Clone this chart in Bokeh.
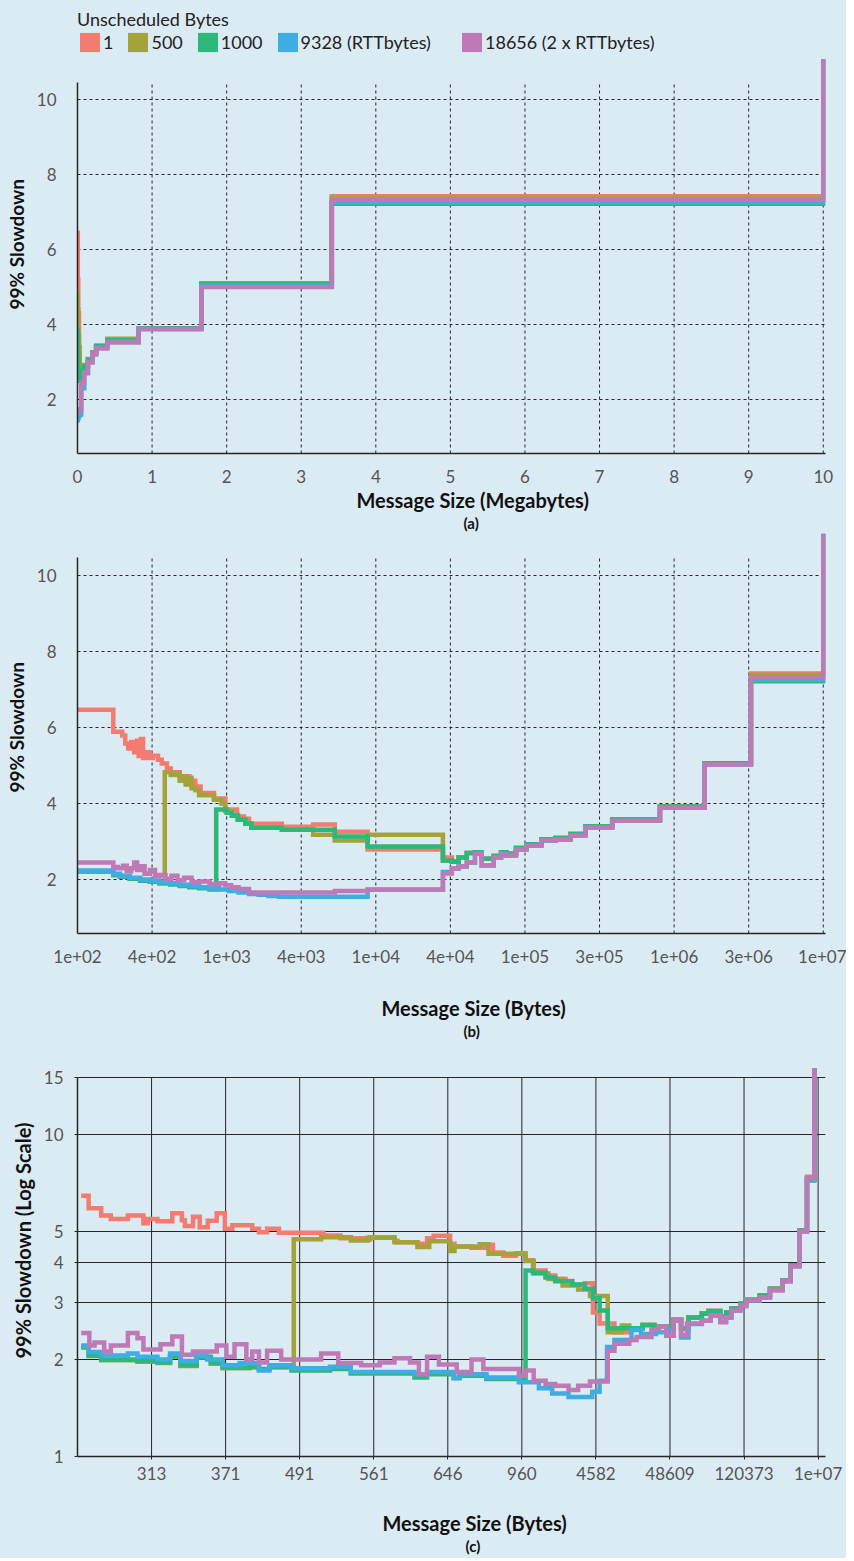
from bokeh.plotting import figure
from bokeh.models import (ColumnDataSource, Range1d, FixedTicker, Legend, LegendItem,
                          Title, BasicTickFormatter, LinearAxis)
from bokeh.layouts import column
from bokeh.embed import file_html
from bokeh.resources import INLINE

# ------------------------------------------------------------------ data
SERIES = ["1", "500", "1000", "9328 (RTTbytes)", "18656 (2 x RTTbytes)"]
COLORS = ["#f47b6f", "#a3a33a", "#2db87b", "#3dade4", "#bf79b6"]

# panel (a): x = message size in megabytes
a_x = [0, 0.004, 0.01, 0.02, 0.03, 0.05, 0.09, 0.14, 0.2, 0.25, 0.4, 0.82, 1.66, 3.41, 10.0]
a_red_y = [6.45, 5.2, 4.3, 3.4, 2.8, 2.75, 2.9, 3.06, 3.24, 3.42, 3.6, 3.9, 5.06, 7.42, 11.07]
a_olive_y = [4.85, 4.4, 3.7, 3.2, 2.9, 2.8, 2.92, 3.08, 3.26, 3.44, 3.62, 3.88, 5.1, 7.38, 11.07]
a_green_y = [3.85, 3.4, 2.8, 2.5, 2.6, 2.78, 2.9, 3.06, 3.24, 3.42, 3.58, 3.9, 5.08, 7.22, 11.07]
a_blue_y = [1.45, 1.5, 1.55, 1.58, 1.6, 2.3, 2.7, 3.0, 3.2, 3.38, 3.54, 3.88, 5.04, 7.26, 11.07]
a_purple_y = [1.65, 1.68, 1.7, 1.72, 1.74, 2.45, 2.72, 2.99, 3.22, 3.36, 3.52, 3.88, 5.0, 7.32, 11.07]
a_ticks = [0, 1, 2, 3, 4, 5, 6, 7, 8, 9, 10]

# panel (b): x = rank position of message size (ticks labelled with sizes)
b_tick_pos = [0, 1, 2, 3, 4, 5, 6, 7, 8, 9, 10]
b_tick_labels = ["1e+02", "4e+02", "1e+03", "4e+03", "1e+04", "4e+04",
                 "1e+05", "3e+05", "1e+06", "3e+06", "1e+07"]

b_red_x = [0, 0.48, 0.60, 0.64, 0.68, 0.72, 0.76, 0.80, 0.82, 0.85, 0.88, 0.92, 0.96, 1.01,
           1.08, 1.13, 1.20, 1.25, 1.37, 1.50, 1.58, 1.65, 1.83, 1.98, 2.14, 2.23, 2.30,
           2.74, 3.16, 3.45, 3.89, 4.90]
b_red_y = [6.47, 5.89, 5.79, 5.58, 5.45, 5.62, 5.35, 5.65, 5.25, 5.70, 5.20, 5.35, 5.20, 5.26,
           5.15, 5.05, 4.92, 4.82, 4.72, 4.60, 4.45, 4.28, 4.13, 3.84, 3.66, 3.60, 3.47,
           3.39, 3.45, 3.26, 2.79, 2.58]
b_olive_x = [0, 0.48, 0.57, 0.70, 0.84, 0.97, 1.10, 1.17, 1.25, 1.31, 1.37, 1.41, 1.45, 1.49,
             1.53, 1.58, 1.63, 1.83, 1.93, 1.98, 2.07, 2.15, 2.25, 2.33, 2.74, 3.16, 3.45,
             3.89, 4.90]
b_olive_y = [2.21, 2.12, 2.07, 2.02, 1.97, 1.94, 1.90, 4.82, 4.75, 4.78, 4.60, 4.72, 4.50, 4.68,
             4.40, 4.35, 4.22, 4.10, 4.00, 3.80, 3.70, 3.58, 3.48, 3.36, 3.31, 3.18, 3.03,
             3.18, 2.50]
b_green_x = [0, 0.48, 0.57, 0.70, 0.84, 0.97, 1.10, 1.24, 1.37, 1.50, 1.63, 1.77, 1.86, 2.00,
             2.07, 2.15, 2.25, 2.33, 2.74, 3.45, 3.89, 4.90]
b_green_y = [2.21, 2.12, 2.07, 2.02, 1.97, 1.94, 1.90, 1.87, 1.83, 1.80, 1.77, 1.74, 3.84, 3.76,
             3.68, 3.57, 3.47, 3.36, 3.31, 3.13, 2.87, 2.50]
b_blue_x = [0, 0.48, 0.57, 0.70, 0.84, 0.97, 1.10, 1.24, 1.37, 1.50, 1.63, 1.77, 1.90, 2.03,
            2.16, 2.30, 2.43, 2.56, 2.70, 3.89, 4.90]
b_blue_y = [2.24, 2.15, 2.10, 2.05, 2.00, 1.97, 1.93, 1.90, 1.86, 1.83, 1.80, 1.77, 1.74, 1.70,
            1.66, 1.62, 1.60, 1.57, 1.55, 1.73, 2.20]
b_purple_x = [0, 0.48, 0.54, 0.61, 0.66, 0.72, 0.76, 0.80, 0.85, 0.90, 0.97, 1.04, 1.10, 1.18,
              1.26, 1.34, 1.43, 1.53, 1.63, 1.77, 1.90, 1.98, 2.06, 2.16, 2.30, 3.45, 3.89, 4.90]
b_purple_y = [2.45, 2.33, 2.30, 2.36, 2.22, 2.30, 2.45, 2.25, 2.35, 2.15, 2.25, 2.08, 2.12, 2.02,
              2.10, 1.98, 2.05, 1.93, 1.95, 1.88, 1.90, 1.85, 1.80, 1.75, 1.66, 1.70, 1.74, 2.16]
# shared large-message part of panel (b)
b_tail_x = [5.02, 5.11, 5.22, 5.33, 5.42, 5.58, 5.68, 5.75, 5.88, 6.02, 6.22, 6.41, 6.61,
            6.81, 7.17, 7.81, 8.41, 9.03, 10.0]
b_hi_tail_y = [2.47, 2.58, 2.70, 2.72, 2.55, 2.62, 2.72, 2.68, 2.83, 2.93, 3.06, 3.09, 3.20,
               3.40, 3.58, 3.92, 5.06]
b_lo_tail_y = [2.29, 2.34, 2.45, 2.68, 2.37, 2.58, 2.68, 2.63, 2.79, 2.89, 3.03, 3.05, 3.16,
               3.37, 3.55, 3.89, 5.03]
b_top_y = [7.42, 7.38, 7.22, 7.26, 7.32]
b_spike_y = 11.1

# panel (c): x = rank position, log y
c_tick_pos = [1, 2, 3, 4, 5, 6, 7, 8, 9, 10]
c_tick_labels = ["313", "371", "491", "561", "646", "960", "4582", "48609", "120373", "1e+07"]
c_y_ticks = [1, 2, 3, 4, 5, 10, 15]

c_red_x = [0.05, 0.15, 0.32, 0.45, 0.68, 0.89, 0.95, 1.08, 1.28, 1.41, 1.45, 1.56, 1.65, 1.76,
           1.88, 1.99, 2.09, 2.36, 2.45, 2.56, 2.72, 3.32, 3.55, 3.88, 3.95, 4.28, 4.32, 4.59,
           4.72, 4.81, 5.03, 5.09, 5.32, 5.52, 5.61, 5.75, 5.92, 6.05, 6.15, 6.32, 6.45, 6.59,
           6.68, 6.85, 6.96, 7.05, 7.25]
c_red_y = [6.46, 5.90, 5.60, 5.47, 5.60, 5.30, 5.47, 5.38, 5.69, 5.42, 5.20, 5.55, 5.15, 5.40,
           5.69, 5.10, 5.23, 5.10, 4.97, 5.10, 4.95, 4.86, 4.76, 4.72, 4.80, 4.68, 4.63, 4.58,
           4.76, 4.85, 4.58, 4.49, 4.45, 4.55, 4.30, 4.20, 4.28, 4.07, 3.78, 3.65, 3.56, 3.51,
           3.42, 3.45, 2.80, 2.59, 2.43]
c_olive_x = [0.05, 0.15, 0.32, 0.68, 0.81, 1.08, 1.25, 1.39, 1.61, 1.80, 1.96, 2.32, 2.45, 2.59,
             2.92, 3.29, 3.69, 3.92, 4.28, 4.59, 4.75, 5.03, 5.09, 5.43, 5.55, 6.05, 6.16, 6.36,
             6.55, 6.76, 6.92, 7.16, 7.35]
c_olive_y = [2.18, 2.05, 1.99, 1.99, 1.97, 1.95, 2.04, 1.91, 2.03, 1.94, 1.88, 1.89, 1.86, 1.89,
             4.73, 4.80, 4.69, 4.78, 4.63, 4.47, 4.66, 4.35, 4.49, 4.56, 4.26, 4.05, 3.70, 3.56,
             3.40, 3.30, 3.15, 2.43, 2.55]
c_green_x = [0.05, 0.15, 0.32, 0.68, 0.81, 1.08, 1.25, 1.39, 1.61, 1.80, 1.96, 2.32, 2.45, 2.59,
             2.89, 3.41, 3.69, 4.55, 4.72, 5.08, 5.16, 5.52, 6.05, 6.15, 6.32, 6.45, 6.68, 6.85,
             6.96, 7.05, 7.16]
c_green_y = [2.19, 2.06, 2.00, 2.00, 1.98, 1.96, 2.05, 1.92, 2.04, 1.95, 1.89, 1.90, 1.87, 1.90,
             1.85, 1.87, 1.81, 1.76, 1.80, 1.75, 1.78, 1.74, 3.78, 3.72, 3.60, 3.50, 3.42, 3.32,
             3.10, 2.84, 2.50]
c_blue_x = [0.05, 0.15, 0.32, 0.68, 0.81, 1.08, 1.25, 1.39, 1.61, 1.75, 1.96, 2.19, 2.45, 2.59,
            2.89, 3.41, 3.69, 4.55, 4.72, 5.08, 5.16, 5.52, 5.96, 6.23, 6.41, 6.63, 6.95, 7.05,
            7.15, 7.25, 7.48, 7.61, 7.81, 7.95, 8.05, 8.15, 8.25, 8.43, 8.55, 8.68, 8.76, 8.83,
            8.95, 9.03, 9.21, 9.35, 9.52, 9.63, 9.75, 9.85, 9.95]
c_blue_y = [2.21, 2.11, 2.06, 2.09, 2.04, 2.00, 2.09, 1.98, 2.06, 2.00, 1.92, 1.95, 1.85, 1.92,
            1.88, 1.90, 1.83, 1.80, 1.83, 1.76, 1.80, 1.76, 1.70, 1.63, 1.57, 1.53, 1.59, 1.72,
            2.19, 2.30, 2.47, 2.40, 2.43, 2.47, 2.64, 2.34, 2.58, 2.64, 2.74, 2.62, 2.70, 2.84,
            2.95, 3.05, 3.12, 3.30, 3.50, 3.90, 5.00, 7.25, 16.1]
c_purple_x = [0.05, 0.16, 0.23, 0.36, 0.45, 0.68, 0.81, 0.89, 1.12, 1.28, 1.41, 1.56, 1.88, 2.01,
              2.12, 2.28, 2.36, 2.45, 2.56, 2.75, 3.29, 3.52, 3.83, 4.08, 4.28, 4.49, 4.61, 4.72,
              4.88, 5.12, 5.32, 5.48, 5.96, 6.05, 6.16, 6.32, 6.45, 6.63, 6.76, 6.92, 7.16, 7.25,
              7.45, 7.55, 7.75, 7.85, 7.95, 8.05, 8.15, 8.23, 8.43, 8.55, 8.68, 8.75, 8.83, 8.95,
              9.03, 9.21, 9.35, 9.52, 9.63, 9.75, 9.85, 9.95]
c_purple_y = [2.42, 2.21, 2.26, 2.12, 2.21, 2.42, 2.33, 2.15, 2.23, 2.36, 2.07, 2.12, 2.21, 2.04,
              2.23, 2.00, 2.12, 1.96, 2.13, 2.00, 2.09, 1.95, 1.92, 1.96, 2.02, 1.96, 1.80, 2.04,
              1.93, 1.83, 2.00, 1.87, 1.78, 1.85, 1.72, 1.68, 1.66, 1.61, 1.66, 1.71, 2.13, 2.24,
              2.30, 2.35, 2.48, 2.53, 2.37, 2.66, 2.38, 2.59, 2.64, 2.74, 2.61, 2.70, 2.84, 2.93,
              3.05, 3.12, 3.28, 3.50, 3.90, 5.00, 7.30, 16.1]
c_tail_x = [7.45, 7.63, 7.79, 8.05, 8.15, 8.25, 8.43, 8.52, 8.68, 8.76, 8.83, 8.95, 9.03, 9.21,
            9.35, 9.52, 9.63, 9.75, 9.85, 9.95]
c_tail_y = [2.50, 2.56, 2.53, 2.66, 2.50, 2.70, 2.78, 2.83, 2.72, 2.80, 2.88, 2.98, 3.07, 3.16,
            3.32, 3.52, 3.92, 5.03]
c_top_y = [7.40, 7.36, 7.20]
c_spike_y = 16.1

# ------------------------------------------------------------------ style
BG = "#dbebf3"
INK = "#262626"
TICK_INK = "#555555"
FONT = "Lato"
LW = 4.5


def base_fig(width, height, x_range, y_range, left, top, bottom, y_type="linear"):
    p = figure(width=width, height=height, x_range=x_range, y_range=y_range,
               y_axis_type=y_type, output_backend="svg", toolbar_location=None,
               min_border_left=left, min_border_right=21, min_border_top=top,
               min_border_bottom=bottom, background_fill_color=BG, border_fill_color=BG)
    p.outline_line_color = None
    p.xgrid.visible = False
    for ax in (p.xaxis[0], p.yaxis[0]):
        ax.axis_line_color = INK
        ax.axis_line_width = 1.5
        ax.major_label_text_font = FONT
        ax.major_label_text_font_size = "17px"
        ax.major_label_text_color = TICK_INK
        ax.minor_tick_line_color = None
    return p


def spacer(p, gap, at):
    # invisible axis (one background-coloured tick, no label) that only reserves
    # vertical room between the tick labels and the axis title
    ax = LinearAxis(ticker=FixedTicker(ticks=[at]), major_tick_out=gap, major_tick_in=0,
                    major_label_standoff=0, axis_line_color=None,
                    major_tick_line_color=BG, minor_tick_line_color=None,
                    major_label_overrides={at: ""}, major_label_text_alpha=0,
                    major_label_text_font_size="1px")
    p.add_layout(ax, "below")


def add_titles(p, xtitle, xoff, sub, suboff, ytitle, yoff, yfs):
    p.add_layout(Title(text=xtitle, align="left", offset=xoff, text_font=FONT,
                       text_font_size="20px", text_font_style="bold",
                       text_color="#111111", standoff=0), "below")
    p.add_layout(Title(text=sub, align="left", offset=suboff, text_font=FONT,
                       text_font_size="15px", text_font_style="bold",
                       text_color="#111111", standoff=0), "below")
    p.add_layout(Title(text=ytitle, align="left", offset=yoff, text_font=FONT,
                       text_font_size=yfs, text_font_style="bold", vertical_align="top",
                       text_color="#111111", standoff=8), "left")


def vgrid(p, xs, y0, y1, dash):
    src = ColumnDataSource(dict(x=xs, y0=[y0] * len(xs), y1=[y1] * len(xs)))
    p.segment(x0="x", x1="x", y0="y0", y1="y1", source=src, line_color=INK,
              line_width=1, line_dash=dash)


# ------------------------------------------------------------------ panel (a)
pa = base_fig(846, 533, Range1d(0, 10.03), Range1d(0.56, 12.43), 70, 8, 80)
pa.xaxis.ticker = FixedTicker(ticks=a_ticks)
pa.yaxis.ticker = FixedTicker(ticks=[2, 4, 6, 8, 10])
pa.yaxis.bounds = (0.56, 10.45)
for ax in (pa.xaxis[0], pa.yaxis[0]):
    ax.major_tick_line_color = None
pa.xaxis.major_label_standoff = 10
pa.yaxis.major_label_standoff = 15
pa.ygrid.ticker = FixedTicker(ticks=[2, 4, 6, 8, 10])
pa.ygrid.grid_line_color = INK
pa.ygrid.grid_line_dash = "3 3"
vgrid(pa, a_ticks[1:], 0.56, 10.45, "3 3")
a_ys = [a_red_y, a_olive_y, a_green_y, a_blue_y, a_purple_y]
for yv, c in zip(a_ys, COLORS):
    pa.step(x=a_x, y=yv, mode="after", line_width=LW, line_color=c, line_join="miter")

# legend swatches: zero-area quads at each series' first point (invisible on the plot)
swatches = []
for yv, c in zip(a_ys, COLORS):
    src = ColumnDataSource(dict(l=[a_x[0]], r=[a_x[0]], t=[yv[0]], b=[yv[0]]))
    swatches.append(pa.quad(left="l", right="r", top="t", bottom="b", source=src,
                            fill_color=c, line_color=None))
leg_style = dict(orientation="horizontal", margin=0, padding=0, spacing=12,
                 label_standoff=1, label_width=1, glyph_width=25, glyph_height=24,
                 background_fill_alpha=0, border_line_color=None, label_text_font=FONT,
                 label_text_font_size="18px", label_text_color="#222222")
legend1 = Legend(items=[LegendItem(label=s, renderers=[r])
                        for s, r in zip(SERIES[:4], swatches[:4])],
                 title="Unscheduled Bytes", location="top_left", title_text_font=FONT,
                 title_text_font_size="18px", title_text_font_style="normal",
                 title_text_color="#222222", title_standoff=0, **leg_style)
legend2 = Legend(items=[LegendItem(label=SERIES[4], renderers=[swatches[4]])],
                 location=(382, 399), **leg_style)
pa.add_layout(legend1)
pa.add_layout(legend2)
add_titles(pa, "Message Size (Megabytes)", 279, "(a)", 386, "99% Slowdown", 144, "19px")

# ------------------------------------------------------------------ panel (b)
pb = base_fig(846, 508, Range1d(0, 10.03), Range1d(0.58, 11.105), 69, 0, 108)
pb.xaxis.ticker = FixedTicker(ticks=b_tick_pos)
pb.xaxis.major_label_overrides = {k: v for k, v in zip(b_tick_pos, b_tick_labels)}
pb.yaxis.ticker = FixedTicker(ticks=[2, 4, 6, 8, 10])
pb.yaxis.bounds = (0.58, 10.47)
for ax in (pb.xaxis[0], pb.yaxis[0]):
    ax.major_tick_line_color = None
pb.xaxis.major_label_standoff = 10
pb.yaxis.major_label_standoff = 15
pb.ygrid.ticker = FixedTicker(ticks=[2, 4, 6, 8, 10])
pb.ygrid.grid_line_color = INK
pb.ygrid.grid_line_dash = "3 3"
vgrid(pb, b_tick_pos[1:], 0.58, 10.47, "3 3")
b_heads = [(b_red_x, b_red_y), (b_olive_x, b_olive_y), (b_green_x, b_green_y),
           (b_blue_x, b_blue_y), (b_purple_x, b_purple_y)]
b_tails = [b_hi_tail_y, b_hi_tail_y, b_hi_tail_y, b_lo_tail_y, b_lo_tail_y]
for (hx, hy), ty, top, c in zip(b_heads, b_tails, b_top_y, COLORS):
    pb.step(x=hx + b_tail_x, y=hy + ty + [top, b_spike_y], mode="after",
            line_width=LW, line_color=c, line_join="miter")
spacer(pb, 28, b_tick_pos[0])
add_titles(pb, "Message Size (Bytes)", 304, "(b)", 386, "99% Slowdown", 141, "19px")

# ------------------------------------------------------------------ panel (c)
pc = base_fig(846, 517, Range1d(0, 10.1), Range1d(1, 19.45), 68, 0, 102, y_type="log")
pc.xaxis.ticker = FixedTicker(ticks=c_tick_pos)
pc.xaxis.major_label_overrides = {k: v for k, v in zip(c_tick_pos, c_tick_labels)}
pc.yaxis.ticker = FixedTicker(ticks=c_y_ticks)
pc.yaxis.formatter = BasicTickFormatter()
pc.yaxis.bounds = (1, 15)
for ax in (pc.xaxis[0], pc.yaxis[0]):
    ax.major_tick_line_color = INK
    ax.major_tick_out = 3
    ax.major_tick_in = 0
pc.xaxis.major_label_standoff = 7
pc.yaxis.major_label_standoff = 11
pc.ygrid.ticker = FixedTicker(ticks=c_y_ticks[1:])
pc.ygrid.grid_line_color = INK
pc.ygrid.grid_line_alpha = 1
vgrid(pc, c_tick_pos, 1, 15, "solid")
c_series = [(c_red_x + c_tail_x, c_red_y + c_tail_y + [c_top_y[0], c_spike_y]),
            (c_olive_x + c_tail_x, c_olive_y + c_tail_y + [c_top_y[1], c_spike_y]),
            (c_green_x + c_tail_x, c_green_y + c_tail_y + [c_top_y[2], c_spike_y]),
            (c_blue_x, c_blue_y),
            (c_purple_x, c_purple_y)]
for (sx, sy), c in zip(c_series, COLORS):
    pc.step(x=sx, y=sy, mode="after", line_width=LW, line_color=c, line_join="miter")
spacer(pc, 26, c_tick_pos[0])
add_titles(pc, "Message Size (Bytes)", 305, "(c)", 388, "99% Slowdown (Log Scale)", 98, "20px")

layout = column(pa, pb, pc, spacing=0, styles={"background-color": BG})
open("out.html", "w").write(file_html(layout, INLINE))
